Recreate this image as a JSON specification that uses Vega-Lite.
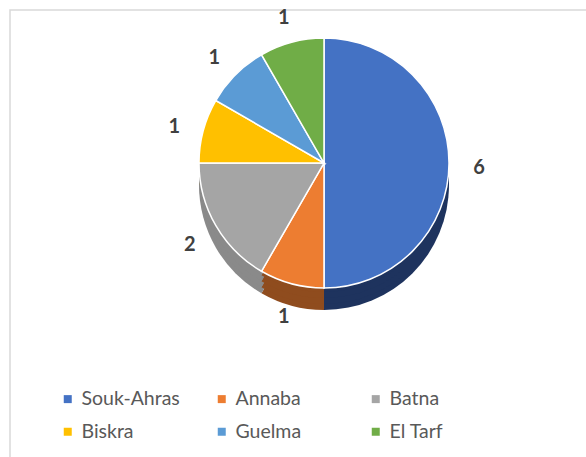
{
  "$schema": "https://vega.github.io/schema/vega-lite/v6.json",
  "width": 586,
  "height": 457,
  "autosize": "none",
  "padding": {"left": 10, "top": 10, "right": -10, "bottom": -10},
  "background": "white",
  "config": {
    "view": {"stroke": "#d9d9d9", "strokeWidth": 1.5},
    "legend": {
      "orient": "none",
      "legendX": 48,
      "legendY": 379,
      "direction": "horizontal",
      "columns": 3,
      "gridAlign": "all",
      "columnPadding": 32,
      "rowPadding": 12,
      "labelFontSize": 19.5,
      "labelFont": "Lato",
      "labelColor": "#595959",
      "symbolType": "square",
      "symbolSize": 64,
      "symbolStrokeWidth": 0,
      "labelLimit": 200
    }
  },
  "data": {
    "values": [
      {"region": "Souk-Ahras", "count": 6, "rank": 1},
      {"region": "Annaba", "count": 1, "rank": 2},
      {"region": "Batna", "count": 2, "rank": 3},
      {"region": "Biskra", "count": 1, "rank": 4},
      {"region": "Guelma", "count": 1, "rank": 5},
      {"region": "El Tarf", "count": 1, "rank": 6}
    ]
  },
  "layer": [
    {
      "mark": {"type": "rule", "opacity": 0},
      "encoding": {
        "x": {"datum": 0, "type": "quantitative", "scale": {"domain": [0, 1]}, "axis": null}
      }
    },
    {
      "mark": {"type": "arc", "outerRadius": 125, "xOffset": 21, "yOffset": -53.5},
      "encoding": {
        "theta": {"field": "count", "type": "quantitative", "stack": true},
        "order": {"field": "rank", "type": "quantitative"},
        "color": {"field": "region", "type": "nominal", "legend": null,
          "scale": {"domain": ["Souk-Ahras", "Annaba", "Batna", "Biskra", "Guelma", "El Tarf"],
                    "range": ["#1e335e", "#8f4c1e", "#8a8a8a", "#bf9000", "#2e75b6", "#548235"]}}
      }
    },
    {
      "mark": {"type": "arc", "outerRadius": 125, "xOffset": 21, "yOffset": -59.5},
      "encoding": {
        "theta": {"field": "count", "type": "quantitative", "stack": true},
        "order": {"field": "rank", "type": "quantitative"},
        "color": {"field": "region", "type": "nominal", "legend": null,
          "scale": {"domain": ["Souk-Ahras", "Annaba", "Batna", "Biskra", "Guelma", "El Tarf"],
                    "range": ["#1e335e", "#8f4c1e", "#8a8a8a", "#bf9000", "#2e75b6", "#548235"]}}
      }
    },
    {
      "mark": {"type": "arc", "outerRadius": 125, "xOffset": 21, "yOffset": -65.5},
      "encoding": {
        "theta": {"field": "count", "type": "quantitative", "stack": true},
        "order": {"field": "rank", "type": "quantitative"},
        "color": {"field": "region", "type": "nominal", "legend": null,
          "scale": {"domain": ["Souk-Ahras", "Annaba", "Batna", "Biskra", "Guelma", "El Tarf"],
                    "range": ["#1e335e", "#8f4c1e", "#8a8a8a", "#bf9000", "#2e75b6", "#548235"]}}
      }
    },
    {
      "mark": {"type": "arc", "outerRadius": 125, "xOffset": 21, "yOffset": -71.5},
      "encoding": {
        "theta": {"field": "count", "type": "quantitative", "stack": true},
        "order": {"field": "rank", "type": "quantitative"},
        "color": {"field": "region", "type": "nominal", "legend": null,
          "scale": {"domain": ["Souk-Ahras", "Annaba", "Batna", "Biskra", "Guelma", "El Tarf"],
                    "range": ["#1e335e", "#8f4c1e", "#8a8a8a", "#bf9000", "#2e75b6", "#548235"]}}
      }
    },
    {
      "mark": {"type": "arc", "outerRadius": 125, "xOffset": 21, "yOffset": -75.5, "stroke": "white", "strokeWidth": 1.5},
      "encoding": {
        "theta": {"field": "count", "type": "quantitative", "stack": true},
        "order": {"field": "rank", "type": "quantitative"},
        "color": {"field": "region", "type": "nominal", "title": null,
          "sort": ["Souk-Ahras", "Annaba", "Batna", "Biskra", "Guelma", "El Tarf"],
          "scale": {"domain": ["Souk-Ahras", "Annaba", "Batna", "Biskra", "Guelma", "El Tarf"],
                    "range": ["#4472c4", "#ed7d31", "#a5a5a5", "#ffc000", "#5b9bd5", "#70ad47"]}}
      }
    },
    {
      "mark": {"type": "text", "radius": 155, "xOffset": 21, "yOffset": -71, "fontSize": 20, "fontWeight": "bold", "font": "Lato", "color": "#404040"},
      "encoding": {
        "theta": {"field": "count", "type": "quantitative", "stack": true},
        "order": {"field": "rank", "type": "quantitative"},
        "text": {"field": "count", "type": "quantitative"}
      }
    }
  ],
  "resolve": {"scale": {"color": "independent"}}
}
